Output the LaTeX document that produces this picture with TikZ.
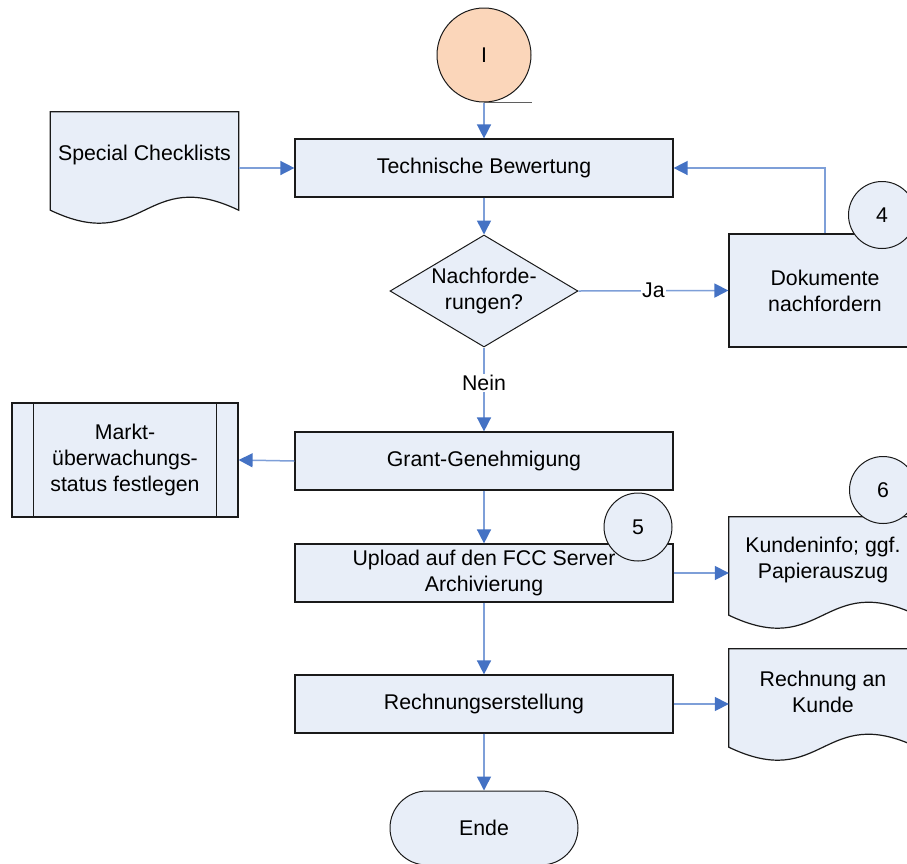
\documentclass[tikz,border=0pt]{standalone}
\usepackage{fontspec}
\setmainfont{Liberation Sans}
\usetikzlibrary{shapes.geometric,arrows.meta,backgrounds,calc}
\pgfdeclarelayer{bottom}
\pgfsetlayers{bottom,background,main}
\definecolor{boxfill}{HTML}{E8EEF8}
\definecolor{peach}{HTML}{FBD6BA}
\definecolor{lineblue}{HTML}{7E9FD8}
\definecolor{headblue}{HTML}{4472C4}
\definecolor{edge}{HTML}{1A1A1A}
\tikzset{
  txt/.style={font=\fontsize{21.3}{26}\selectfont, align=center, inner sep=0pt},
  procbox/.style={txt, draw=edge, line width=1.2pt, fill=boxfill, minimum width=378pt, minimum height=58pt},
  numcirc/.style={txt, circle, draw=edge, line width=1pt, fill=boxfill, minimum size=67pt},
  docnode/.style={txt, minimum width=188pt, minimum height=86pt},
  docfill/.style={draw=edge, line width=1.2pt, fill=boxfill},
  arr/.style={draw=lineblue, line width=1.5pt, -{Triangle[length=14pt,width=14pt,color=headblue]}},
  lbl/.style={txt, fill=white, inner sep=1pt}
}
\newcommand\docbg[1]{%
  \begin{pgfonlayer}{background}
  \path[docfill] let \p1=(#1.north west), \p2=(#1.south east) in
    (\x1,\y1) -- (\x2,\y1) -- (\x2,{\y2-12pt})
    .. controls ({0.5*\x1+0.5*\x2},{\y2-12pt+45pt}) and ({0.5*\x1+0.5*\x2},{\y2-12pt-45pt}) ..
    (\x1,{\y2-12pt}) -- cycle;
  \end{pgfonlayer}}
\begin{document}
\begin{tikzpicture}[x=1pt,y=-1pt]
\begin{pgfonlayer}{bottom}
\fill[white] (0,0) rectangle (907,863);
\end{pgfonlayer}
\useasboundingbox (0,0) rectangle (907,863);

% start circle
\node[txt, circle, draw=edge, line width=1pt, fill=peach, minimum size=94pt] (circI) at (484,55) {I};
\draw[edge!70, line width=1.2pt] (circI.south) -- (circI.south -| circI.east);

% main process boxes
\node[procbox] (tb) at (484,168) {Technische Bewertung};
\node[procbox] (gg) at (484,461) {Grant-Genehmigung};
\node[procbox] (up) at (484,573) {Upload auf den FCC Server\\Archivierung};
\node[procbox] (re) at (484,704) {Rechnungserstellung};

% decision
\node[txt, diamond, aspect=1.68, draw=edge, line width=1pt, fill=boxfill, minimum width=188pt, minimum height=112pt] (dia) at (484,291) {Nachforde-\\rungen?};

% Dokumente nachfordern
\node[txt, draw=edge, line width=1.2pt, fill=boxfill, minimum width=192pt, minimum height=113pt] (dn) at (825,290.5) {Dokumente\\nachfordern};

% predefined process
\node[txt, draw=edge, line width=1.2pt, fill=boxfill, minimum width=226pt, minimum height=114pt] (mk) at (125,460) {Markt-\\überwachungs-\\status festlegen};
\draw[edge, line width=1.2pt] ([xshift=22pt]mk.north west) -- ([xshift=22pt]mk.south west);
\draw[edge, line width=1.2pt] ([xshift=-22pt]mk.north east) -- ([xshift=-22pt]mk.south east);

% documents
\node[docnode] (sc) at (144.5,155) {Special Checklists};
\docbg{sc}
\node[docnode] (ki) at (823,560) {Kundeninfo; ggf.\\Papierauszug};
\docbg{ki}
\node[docnode] (rk) at (823,692) {Rechnung an\\Kunde};
\docbg{rk}

% terminal
\node[txt, draw=edge, line width=1pt, fill=boxfill, minimum width=188pt, minimum height=74pt, rounded corners=37pt] (en) at (484,828) {Ende};

% numbered circles
\node[numcirc] (c4) at (882,215) {4};
\node[numcirc, minimum size=68pt] (c5) at (638,527) {5};
\node[numcirc] (c6) at (883,490) {6};

% connectors
\draw[arr] (circI.south) -- (tb.north);
\draw[arr] (sc.east |- tb.west) -- (tb.west);
\draw[arr] (tb.south) -- (dia.north);
\draw[arr] (dia.east) -- node[lbl] (ja) {Ja} (dn.west);
\draw[arr] (dn.north) |- (tb.east);
\draw[arr] (dia.south) -- node[lbl, pos=0.42] (nein) {Nein} (gg.north);
\draw[arr] (gg.west) -- (mk.east);
\draw[arr] (gg.south) -- (up.north);
\draw[arr] (up.east) -- (up.east -| ki.west);
\draw[arr] (up.south) -- (re.north);
\draw[arr] (re.east) -- (re.east -| rk.west);
\draw[arr] (re.south) -- (en.north);
\end{tikzpicture}
\end{document}
